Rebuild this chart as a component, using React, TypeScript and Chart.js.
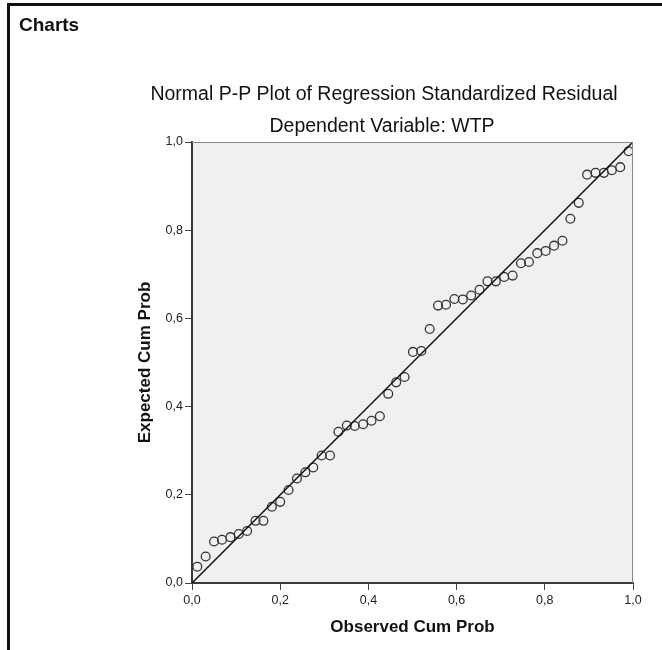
import React, { useEffect, useRef } from "react";
import { Chart, registerables } from "chart.js";

Chart.register(...registerables);

const observedCumProb = [
  0.012, 0.031, 0.05, 0.068, 0.087, 0.106, 0.125, 0.144, 0.162, 0.181,
  0.2, 0.219, 0.238, 0.257, 0.275, 0.294, 0.313, 0.332, 0.351, 0.369,
  0.388, 0.407, 0.426, 0.445, 0.463, 0.482, 0.501, 0.52, 0.539, 0.558,
  0.576, 0.595, 0.614, 0.633, 0.652, 0.67, 0.689, 0.708, 0.727, 0.746,
  0.764, 0.783, 0.802, 0.821, 0.84, 0.858, 0.877, 0.896, 0.915, 0.934,
  0.952, 0.971, 0.99,
];

const expectedCumProb = [
  0.037, 0.06, 0.094, 0.098, 0.104, 0.111, 0.118, 0.141, 0.141, 0.173,
  0.184, 0.211, 0.237, 0.251, 0.262, 0.289, 0.289, 0.343, 0.357, 0.356,
  0.36, 0.368, 0.378, 0.429, 0.455, 0.467, 0.524, 0.526, 0.576, 0.629,
  0.631, 0.644, 0.643, 0.652, 0.665, 0.684, 0.684, 0.694, 0.697, 0.725,
  0.728, 0.748, 0.753, 0.765, 0.776, 0.826, 0.862, 0.926, 0.93, 0.93,
  0.936, 0.943, 0.979,
];

const diagonalLine = [0, 1];
const tickValues = [0, 0.2, 0.4, 0.6, 0.8, 1.0];

const heading = "Charts";
const chartTitle = "Normal P-P Plot of Regression Standardized Residual";
const chartSubtitle = "Dependent Variable: WTP";
const xTitle = "Observed Cum Prob";
const yTitle = "Expected Cum Prob";

const FONT = '"Liberation Sans", Arial, sans-serif';

const fmt = (v: number) => v.toFixed(1).replace(".", ",");

export default function App() {
  const ref = useRef<HTMLCanvasElement | null>(null);

  useEffect(() => {
    if (!ref.current) return;

    const decor = {
      id: "decor",
      beforeDraw(chart: any) {
        const { ctx, chartArea: a, width, height } = chart;
        ctx.save();
        ctx.fillStyle = "#ffffff";
        ctx.fillRect(0, 0, width, height);
        ctx.strokeStyle = "#111";
        ctx.lineWidth = 3;
        ctx.beginPath();
        ctx.moveTo(8.5, height);
        ctx.lineTo(8.5, 4.5);
        ctx.lineTo(width, 4.5);
        ctx.stroke();
        ctx.fillStyle = "#f0f0f0";
        ctx.fillRect(a.left, a.top, a.right - a.left, a.bottom - a.top);
        ctx.restore();
      },
      afterDraw(chart: any) {
        const { ctx, chartArea: a } = chart;
        ctx.save();
        ctx.strokeStyle = "#8a8a8a";
        ctx.lineWidth = 1;
        ctx.beginPath();
        ctx.moveTo(a.left, a.top + 0.5);
        ctx.lineTo(a.right - 0.5, a.top + 0.5);
        ctx.lineTo(a.right - 0.5, a.bottom);
        ctx.stroke();

        ctx.fillStyle = "#111";
        ctx.textBaseline = "alphabetic";
        ctx.textAlign = "left";
        ctx.font = `bold 19px ${FONT}`;
        ctx.fillText(heading, 19, 31);

        ctx.textAlign = "center";
        ctx.font = `19.5px ${FONT}`;
        ctx.fillText(chartTitle, 384, 100);
        ctx.fillText(chartSubtitle, 382, 132);

        ctx.font = `bold 17px ${FONT}`;
        ctx.textBaseline = "middle";
        ctx.fillText(xTitle, (a.left + a.right) / 2, 627);
        ctx.translate(145, (a.top + a.bottom) / 2);
        ctx.rotate(-Math.PI / 2);
        ctx.fillText(yTitle, 0, 0);
        ctx.restore();
      },
    };

    const axisCommon = {
      type: "linear" as const,
      min: 0,
      max: 1,
      afterBuildTicks: (scale: any) => {
        scale.ticks = tickValues.map((v) => ({ value: v }));
      },
      grid: {
        drawOnChartArea: false,
        drawTicks: true,
        tickLength: 7,
        color: "#444",
        lineWidth: 1,
      },
      border: { display: true, color: "#3a3a3a", width: 2 },
      title: { display: false },
    };

    const chart = new Chart(ref.current, {
      type: "scatter",
      data: {
        datasets: [
          {
            type: "line",
            data: diagonalLine.map((v) => ({ x: v, y: v })),
            borderColor: "#111",
            borderWidth: 1.5,
            pointRadius: 0,
            fill: false,
          } as any,
          {
            data: observedCumProb.map((x, i) => ({ x, y: expectedCumProb[i] })),
            pointRadius: 4.4,
            pointBorderColor: "#333",
            pointBackgroundColor: "rgba(0,0,0,0)",
            pointBorderWidth: 1.3,
            showLine: false,
          },
        ],
      },
      options: {
        animation: false,
        responsive: false,
        maintainAspectRatio: false,
        layout: { padding: { left: 0, right: 29, top: 142, bottom: 27 } },
        plugins: {
          legend: { display: false },
          tooltip: { enabled: false },
          title: { display: false },
        },
        scales: {
          x: {
            ...axisCommon,
            position: "bottom",
            ticks: {
              callback: (v: any) => fmt(Number(v)),
              color: "#222",
              font: { family: FONT, size: 12.5 },
              padding: 3,
            },
            afterFit: (s: any) => {
              s.height = 40;
            },
          } as any,
          y: {
            ...axisCommon,
            position: "left",
            ticks: {
              callback: (v: any) => fmt(Number(v)),
              color: "#222",
              font: { family: FONT, size: 12.5 },
              padding: 2,
            },
            afterFit: (s: any) => {
              s.width = 192;
            },
          } as any,
        },
      },
      plugins: [decor],
    });

    return () => chart.destroy();
  }, []);

  return (
    <div style={{ position: "absolute", left: 0, top: 0, width: 662, height: 650 }}>
      <canvas ref={ref} width={662} height={650} style={{ width: 662, height: 650, display: "block" }} />
    </div>
  );
}
